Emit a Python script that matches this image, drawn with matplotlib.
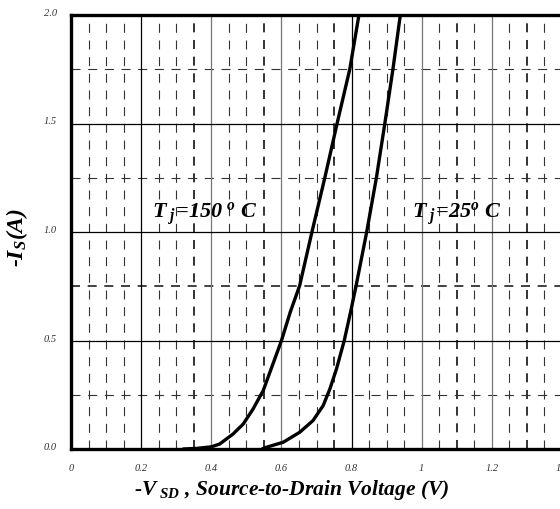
import matplotlib
matplotlib.use("Agg")
import matplotlib.pyplot as plt
import numpy as np

plt.rcParams['font.family'] = ['Liberation Serif', 'DejaVu Serif']
plt.rcParams['mathtext.fontset'] = 'custom'
plt.rcParams['mathtext.rm'] = 'Liberation Serif:bold:italic'
plt.rcParams['mathtext.it'] = 'Liberation Serif:bold:italic'
plt.rcParams['mathtext.bf'] = 'Liberation Serif:bold:italic'
plt.rcParams['lines.scale_dashes'] = False

hot_v = [0.32, 0.36, 0.40, 0.424, 0.462, 0.491, 0.519, 0.548, 0.600, 0.625,
         0.652, 0.687, 0.724, 0.759, 0.795, 0.821]
hot_i = [0.0, 0.003, 0.01, 0.023, 0.069, 0.115, 0.184, 0.269, 0.499, 0.63,
         0.753, 1.0, 1.252, 1.502, 1.751, 2.0]
cold_v = [0.545, 0.557, 0.605, 0.652, 0.690, 0.719, 0.738, 0.757, 0.779, 0.797,
          0.813, 0.843, 0.871, 0.895, 0.918, 0.939]
cold_i = [0.0, 0.008, 0.031, 0.077, 0.131, 0.200, 0.276, 0.369, 0.499, 0.630,
          0.753, 0.999, 1.252, 1.502, 1.751, 2.0]

x_ticks = [0, 0.2, 0.4, 0.6, 0.8, 1.0, 1.2, 1.4]
x_labels = ['0', '0.2', '0.4', '0.6', '0.8', '1', '1.2', '1.4']
y_ticks = [0.0, 0.5, 1.0, 1.5, 2.0]
y_labels = ['0.0', '0.5', '1.0', '1.5', '2.0']

fig = plt.figure(figsize=(5.6, 5.1), dpi=100)
ax = fig.add_axes([71/560, 60/510, 491/560, 434/510])
ax.set_xlim(0, 1.4)
ax.set_ylim(0, 2.0)

# minor grid, dashed
dash = (0, (6.5, 5.5))
for v in np.arange(0.05, 1.4, 0.05):
    if abs(v / 0.2 - round(v / 0.2)) < 1e-6:
        continue
    lw = 1.4 if round(v, 2) in (0.35, 0.55, 0.75, 1.1, 1.3) else 0.8
    ax.axvline(v, color='#333333', lw=lw, ls=dash, zorder=1)
for h in [0.25, 0.75, 1.25, 1.75]:
    lw = 1.3 if h == 0.75 else 0.8
    ax.axhline(h, color='#333333', lw=lw, ls=dash, zorder=1)

# major grid
for v in x_ticks[1:-1]:
    c = 'black' if v in (0.2, 0.8) else '#777777'
    ax.axvline(v, color=c, lw=0.9, zorder=2)
for h in y_ticks[1:-1]:
    ax.axhline(h, color='black', lw=0.9, zorder=2)

ax.plot(hot_v, hot_i, color='black', lw=2.4, solid_joinstyle='round',
        solid_capstyle='round', zorder=4)
ax.plot(cold_v, cold_i, color='black', lw=2.4, solid_joinstyle='round',
        solid_capstyle='round', zorder=4)

ax.text(0.232, 1.07, r'$\mathrm{T_{\ j}\!=\!150^{\ o}\ C}$', fontsize=16, color='black', zorder=5)
ax.text(0.972, 1.07, r'$\mathrm{T_{\ j}\!=\!25^{o}\ C}$', fontsize=16, color='black', zorder=5)

for s in ['left', 'bottom', 'top']:
    ax.spines[s].set_linewidth(2.4)
    ax.spines[s].set_zorder(6)
ax.spines['right'].set_visible(False)

ax.set_xticks(x_ticks)
ax.set_xticklabels(x_labels, fontstyle='italic', fontsize=7.5, color='#333333')
ax.set_yticks(y_ticks)
ax.set_yticklabels(y_labels, fontstyle='italic', fontsize=7.5, color='#333333')
for lab in ax.get_yticklabels():
    lab.set_va('baseline')
ax.tick_params(axis='both', length=0)
ax.tick_params(axis='x', pad=10)
ax.tick_params(axis='y', pad=10)

ax.set_ylabel(r'-$\mathrm{I_{S}(A)}$', fontsize=17, fontweight='bold', fontstyle='italic')
ax.yaxis.set_label_coords(-0.083, 0.49)
fig.text(292/560, 20/510, r'-$\mathrm{V_{\ SD}}$ , Source-to-Drain Voltage (V)',
         fontsize=15.5, fontweight='bold', fontstyle='italic', ha='center', va='center')

fig.savefig('out.png', dpi=100)
